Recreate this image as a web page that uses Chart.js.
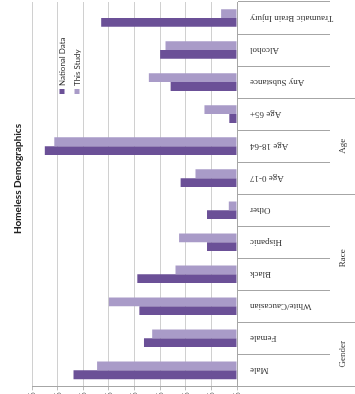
<!DOCTYPE html>
<html>
<head>
<meta charset="utf-8">
<script src="https://cdn.jsdelivr.net/npm/chart.js@4.4.1/dist/chart.umd.min.js"></script>
<style>
  html, body { margin: 0; padding: 0; background: #fff; overflow: hidden; }
  #wrap { width: 355px; height: 394px; overflow: hidden; }
  canvas { display: block; }
</style>
</head>
<body>
<div id="wrap"><canvas id="chart" width="355" height="420"></canvas></div>
<script>
// values are percentages
const categories = ['Male', 'Female', 'White/Caucasian', 'Black', 'Hispanic', 'Other',
    'Age 0-17', 'Age 18-64', 'Age 65+', 'Any Substance', 'Alcohol', 'Traumatic Brain Injury'];
const groupLabels = ['Gender', 'Race', 'Age', ''];
const groupSizes = [2, 4, 3, 3];
const nationalData = [63.8, 36.3, 38.1, 38.9, 11.7, 11.7, 22.0, 75.0, 3.0, 25.9, 30.0, 53.0];
const thisStudy = [54.6, 33.1, 50.0, 24.0, 22.6, 3.2, 16.2, 71.3, 12.7, 34.4, 27.9, 6.2];
const valueTicks = [0, 10, 20, 30, 40, 50, 60, 70, 80];

const darkColor = '#6b5097';
const lightColor = '#a99bc8';

// draws the things excel put in odd places: title, legend, category + group labels
const extras = {
    id: 'extras',
    afterDraw(chart) {
        const ctx = chart.ctx;
        const area = chart.chartArea;
        const y = chart.scales.y;
        const step = Math.abs(y.getPixelForValue(1) - y.getPixelForValue(0));

        ctx.save();
        // title
        ctx.fillStyle = '#222';
        ctx.font = 'bold 10px Lato';
        ctx.textAlign = 'center';
        ctx.textBaseline = 'middle';
        ctx.translate(18, 179);
        ctx.rotate(-Math.PI / 2);
        ctx.fillText('Homeless Demographics', 0, 0);
        ctx.restore();

        // legend
        const legendItems = [
            {label: 'National Data', color: darkColor, x: 62},
            {label: 'This Study', color: lightColor, x: 77}
        ];
        legendItems.forEach(item => {
            ctx.save();
            ctx.fillStyle = item.color;
            ctx.fillRect(item.x - 2.5, 89, 5, 5);
            ctx.translate(item.x, 86);
            ctx.rotate(-Math.PI / 2);
            ctx.fillStyle = '#333';
            ctx.font = '8px Lato';
            ctx.textAlign = 'left';
            ctx.textBaseline = 'middle';
            ctx.fillText(item.label, 0, 0);
            ctx.restore();
        });

        // category labels, upside down
        ctx.save();
        ctx.fillStyle = '#333';
        ctx.font = '9px "Liberation Serif"';
        ctx.textAlign = 'right';
        ctx.textBaseline = 'middle';
        categories.forEach((c, i) => {
            ctx.save();
            ctx.translate(area.right + 13, y.getPixelForValue(i));
            ctx.rotate(Math.PI);
            ctx.fillText(c, 0, 0);
            ctx.restore();
        });
        ctx.restore();

        // group separators + labels
        ctx.save();
        ctx.strokeStyle = '#a6a6a6';
        ctx.lineWidth = 1;
        let start = 0;
        const bottomOf = i => y.getPixelForValue(i) + step / 2;
        ctx.beginPath();
        ctx.moveTo(area.right, Math.round(bottomOf(0)) + 0.5);
        ctx.lineTo(chart.width, Math.round(bottomOf(0)) + 0.5);
        ctx.stroke();
        groupSizes.forEach((size, g) => {
            const end = start + size - 1;
            const top = y.getPixelForValue(end) - step / 2;
            if (groupLabels[g]) {
                ctx.beginPath();
                ctx.moveTo(area.right, Math.round(top) + 0.5);
                ctx.lineTo(chart.width, Math.round(top) + 0.5);
                ctx.stroke();
                const mid = (bottomOf(start) + top) / 2;
                ctx.save();
                ctx.translate(343, mid);
                ctx.rotate(-Math.PI / 2);
                ctx.fillStyle = '#333';
                ctx.font = '9px "Liberation Serif"';
                ctx.textAlign = 'center';
                ctx.textBaseline = 'middle';
                ctx.fillText(groupLabels[g], 0, 0);
                ctx.restore();
            }
            start += size;
        });
        ctx.restore();
    }
};

const data = {
    labels: categories,
    datasets: [{
        label: 'This Study',
        data: thisStudy,
        backgroundColor: lightColor
    }, {
        label: 'National Data',
        data: nationalData,
        backgroundColor: darkColor
    }]
};

const config = {
    type: 'bar',
    data: data,
    options: {
        indexAxis: 'y',
        responsive: false,
        animation: false,
        layout: {
            padding: {left: 32, right: 25, top: 2, bottom: 8}
        },
        datasets: {
            bar: {categoryPercentage: 0.55, barPercentage: 1}
        },
        plugins: {
            legend: {display: false},
            title: {display: false},
            tooltip: {enabled: false}
        },
        scales: {
            x: {
                reverse: true,
                min: valueTicks[0],
                max: valueTicks[valueTicks.length - 1],
                afterBuildTicks: scale => {
                    scale.ticks = valueTicks.map(v => ({value: v}));
                },
                ticks: {
                    minRotation: 90,
                    maxRotation: 90,
                    padding: 2,
                    color: '#444',
                    font: {family: 'Lato', size: 9},
                    callback: v => v + '%'
                },
                grid: {color: '#d0d0d0', tickLength: 4, tickColor: '#bdbdbd'},
                border: {color: '#a6a6a6'}
            },
            y: {
                position: 'right',
                reverse: true,
                ticks: {display: false},
                grid: {drawOnChartArea: false, offset: true, tickLength: 93, tickColor: '#a6a6a6'},
                border: {color: '#a6a6a6'}
            }
        }
    },
    plugins: [extras]
};

let myChart = new Chart(document.getElementById('chart'), config);
</script>
</body>
</html>
